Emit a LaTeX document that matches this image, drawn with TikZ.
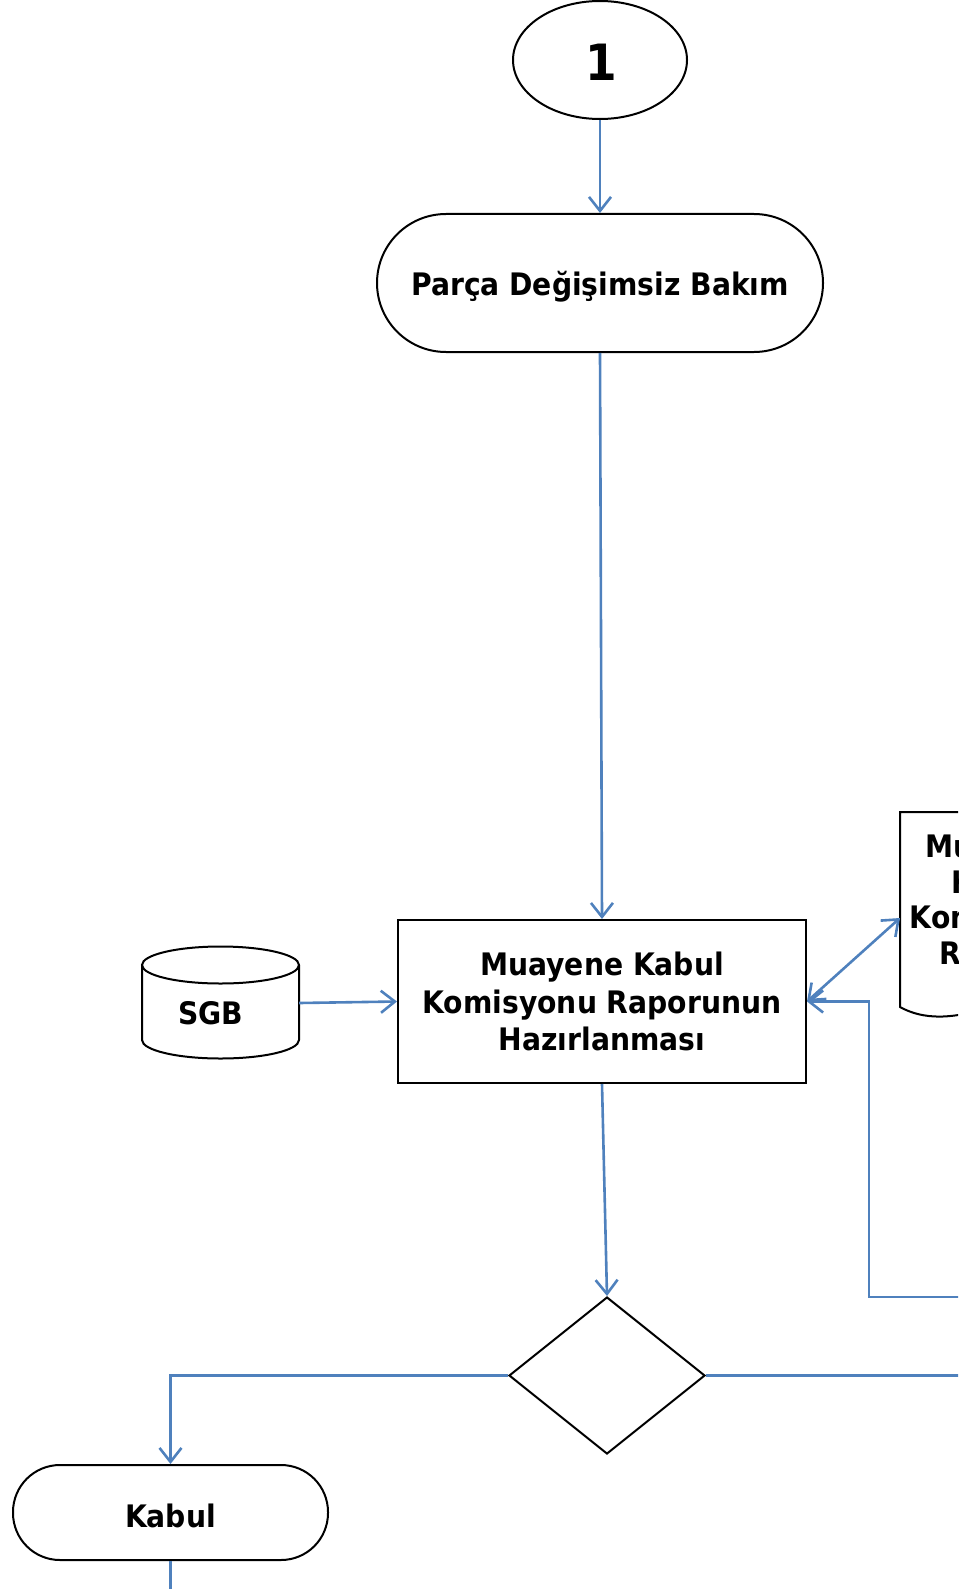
\documentclass[tikz,border=0pt]{standalone}
\usepackage{fontspec}
\setmainfont{DejaVu Sans}[FakeStretch=0.91]
\usetikzlibrary{arrows.meta,shapes.geometric}
\definecolor{conncol}{HTML}{4F81BD}
\newcommand\lblfont{\fontsize{31pt}{37.5pt}\selectfont\bfseries}
\begin{document}
\begin{tikzpicture}[x=1pt,y=-1pt,
  tip/.tip={Straight Barb[length=14pt,width=22pt]},
  conn/.style={draw=conncol, line width=2.6pt, -tip},
  plainconn/.style={draw=conncol, line width=2.6pt},
  shp/.style={draw=black, line width=2pt, fill=white, inner sep=0pt, font=\lblfont, align=center},
  stad/.style={shp, rectangle},
  boxn/.style={shp, rectangle},
  ell/.style={shp, ellipse},
  dia/.style={shp, diamond},
  lbl/.style={font=\lblfont, inner sep=0pt, align=center}
]
\useasboundingbox (0,0) rectangle (958,1589);
\clip (0,0) rectangle (958,1589);

\node[ell, minimum width=174pt, minimum height=118pt] (one) at (600,60) {};
\node[lbl, font=\fontsize{50pt}{50pt}\selectfont\bfseries] (onet) at (601,62) {1};
\node[stad, minimum width=446pt, minimum height=138pt, rounded corners=69pt] (pdb) at (600,283) {};
\node[lbl] (pdbt) at (600,287) {Parça Değişimsiz Bakım};
\node[boxn, minimum width=408pt, minimum height=163pt] (mk) at (602,1001.5) {Muayene Kabul\\Komisyonu Raporunun\\Hazırlanması};
\node[dia, minimum width=196pt, minimum height=157pt] (dec) at (607,1375.5) {};
\node[stad, minimum width=315pt, minimum height=95pt, rounded corners=47pt] (kabul) at (170.5,1512.5) {};
\node[lbl] (kabult) at (170.5,1516) {Kabul};

% SGB cylinder
\draw[line width=2pt, fill=white] (142,965) -- (142,1040) arc[start angle=180, end angle=360, x radius=78.5pt, y radius=18.5pt] -- (299,965);
\draw[line width=2pt, fill=white] (220.5,965) ellipse[x radius=78.5pt, y radius=18.5pt];
\node[inner sep=0pt, minimum width=157pt, minimum height=112pt] (sgb) at (220.5,1003) {};
\node[lbl] (sgbt) at (211,1013) {SGB};

% document shape (cut by the right edge)
\draw[line width=2pt, fill=white] (900,812) -- (1090,812) -- (1090,1000) .. controls (1030,975) and (960,1040) .. (900,1007) -- cycle;
\coordinate (doc) at (900,918);
\node[lbl, font=\fontsize{31pt}{35.5pt}\selectfont\bfseries] (doct) at (997,903) {Muayene\\Kabul\\Komisyonu\\Raporu};

\coordinate (r1) at (975,1375.5);
\coordinate (r2) at (975,1297);
\coordinate (fb) at (869,1297);
\coordinate (bot) at (170.5,1600);

\draw[conn] (one.south) -- (pdb.north);
\draw[conn] (pdb.south) -- (mk.north);
\draw[conn] (mk.south) -- (dec.north);
\draw[conn] (sgb.east) -- (mk.west);
\draw[draw=conncol, line width=2.6pt, tip-tip] (mk.east) -- (doc);
\draw[conn] (r2) -- (fb) |- (mk.east);
\draw[conn] (dec.west) -| (kabul.north);
\draw[plainconn] (dec.east) -- (r1);
\draw[plainconn] (kabul.south) -- (bot);
\end{tikzpicture}
\end{document}
